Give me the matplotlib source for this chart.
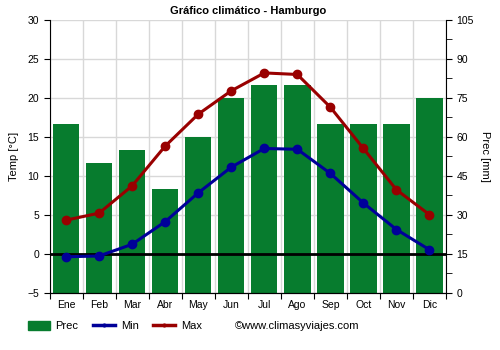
import numpy as np
import matplotlib
matplotlib.use('Agg')
import matplotlib.pyplot as plt
from matplotlib.patches import Patch
from matplotlib.lines import Line2D
from matplotlib.ticker import MultipleLocator

months = ['Ene', 'Feb', 'Mar', 'Abr', 'May', 'Jun', 'Jul', 'Ago', 'Sep', 'Oct', 'Nov', 'Dic']
prec = [65, 50, 55, 40, 60, 75, 80, 80, 65, 65, 65, 75]
t_min = [-0.4, -0.3, 1.2, 4.1, 7.8, 11.1, 13.5, 13.4, 10.3, 6.5, 3.1, 0.5]
t_max = [4.3, 5.2, 8.7, 13.8, 17.9, 20.9, 23.2, 23.0, 18.8, 13.5, 8.2, 5.0]

green = '#077c2e'
blue = '#000099'
red = '#990000'

plt.rcParams['font.family'] = ['Liberation Sans', 'DejaVu Sans']

fig = plt.figure(figsize=(5, 3.5), dpi=100)
ax = fig.add_axes([0.099, 0.164, 0.793, 0.779])
ax2 = ax.twinx()

x = np.arange(len(months))

# precipitation bars live on the right axis, drawn behind the temperatures
ax2.bar(x, prec, width=0.8, color=green, zorder=1)
ax2.set_ylim(0, 105)
ax2.yaxis.set_major_locator(MultipleLocator(15))
ax2.yaxis.set_minor_locator(MultipleLocator(7.5))
ax2.set_ylabel('Prec [mm]', rotation=270, labelpad=12, fontsize=8)

ax.set_zorder(ax2.get_zorder() + 1)
ax.patch.set_visible(False)

ax.set_ylim(-5, 30)
ax.set_xlim(-0.5, 11.5)
ax.yaxis.set_major_locator(MultipleLocator(5))
ax.set_xticks(np.arange(-0.5, 12, 1), minor=False)
ax.set_xticklabels([])
ax.set_xticks(x, minor=True)
ax.set_xticklabels(months, minor=True)
ax.tick_params(axis='x', which='minor', length=0, pad=5, labelsize=7.5)
ax.tick_params(axis='x', which='major', length=4, direction='out')
ax.tick_params(axis='y', labelsize=7.5, length=4)
ax2.tick_params(axis='y', which='both', labelsize=7.5, length=4)

# grid drawn on the precipitation axis so it sits under the bars
for yv in np.arange(0, 106, 15):
    ax2.axhline(yv, color='#d8d8d8', lw=1, zorder=0)
for xv in np.arange(-0.5, 12, 1):
    ax2.axvline(xv, color='#d8d8d8', lw=1, zorder=0)

ax.axhline(0, color='black', lw=2, zorder=2)
ax.plot(x, t_min, color=blue, lw=2.2, marker='o', ms=6, zorder=3)
ax.plot(x, t_max, color=red, lw=2.2, marker='o', ms=6, zorder=3)

ax.set_ylabel('Temp [°C]', fontsize=8, labelpad=6)
ax.set_title('Gráfico climático - Hamburgo', fontsize=8, fontweight='bold', pad=4)

for a in (ax, ax2):
    a.spines['top'].set_visible(False)
ax.spines['right'].set_visible(False)
ax2.spines['left'].set_visible(False)

handles = [Patch(color=green),
           Line2D([0], [0], color=blue, lw=2.5, marker='o', ms=2),
           Line2D([0], [0], color=red, lw=2.5, marker='o', ms=2)]
fig.legend(handles, ['Prec', 'Min', 'Max'], loc='center left',
           bbox_to_anchor=(0.04, 0.068), ncol=3, frameon=False,
           fontsize=8, handlelength=2.0, handleheight=0.8,
           columnspacing=1.3, handletextpad=0.5, borderpad=0.2)
fig.text(0.47, 0.068, '©www.climasyviajes.com', fontsize=8, va='center', ha='left')

fig.savefig('out.png', dpi=100)
